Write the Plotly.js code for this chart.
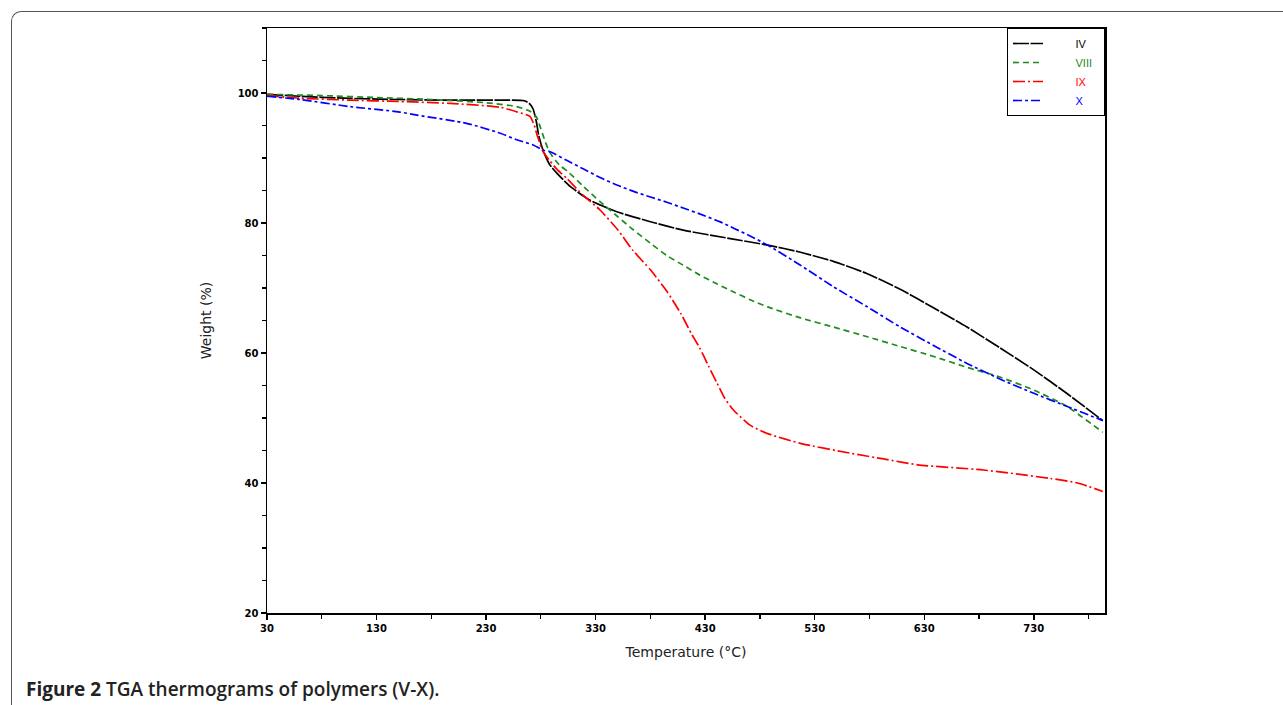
<!DOCTYPE html>
<html>
<head>
<meta charset="utf-8">
<script src="https://cdn.plot.ly/plotly-3.0.1.min.js"></script>
<style>
  html, body { margin: 0; padding: 0; background: #fff; }
  #wrap { position: relative; width: 1283px; height: 705px; overflow: hidden; }
  #frame { position: absolute; left: 11px; top: 11px; width: 1290px; height: 720px;
           border-left: 1.5px solid #555; border-top: 1.5px solid #555; border-top-left-radius: 10px; pointer-events: none; }
  #chart { position: absolute; left: 0; top: 0; width: 1283px; height: 705px; }
</style>
</head>
<body>
<div id="wrap">
  <div id="chart"></div>
  <div id="frame"></div>
</div>
<script>
// Temperature (°C) and weight (%)
const tempIV = [30, 60, 100, 150, 200, 250, 265, 270, 273, 276, 278, 282, 288, 295, 307, 325, 350, 380, 410, 453, 487, 517, 547, 578, 608, 638, 669, 699, 730, 760, 793];
const weightIV = [99.8, 99.5, 99.2, 99.0, 98.9, 98.9, 98.8, 98.3, 97.5, 95.5, 93.5, 91.2, 89.0, 87.6, 85.6, 83.5, 81.7, 80.2, 78.9, 77.6, 76.6, 75.5, 74.1, 72.2, 69.8, 67.0, 64.0, 60.8, 57.4, 53.8, 49.6];

const tempVIII = [30, 80, 130, 180, 230, 258, 270, 276, 280, 284, 288, 297, 304, 319, 334, 350, 364, 380, 395, 410, 425, 441, 456, 471, 487, 517, 547, 578, 608, 638, 669, 699, 730, 760, 793];
const weightVIII = [99.8, 99.6, 99.3, 99.0, 98.5, 97.9, 97.2, 96.3, 94.5, 92.5, 90.9, 88.9, 88.0, 85.6, 83.3, 81.0, 79.0, 76.9, 75.0, 73.5, 72.0, 70.6, 69.4, 68.2, 67.1, 65.4, 64.0, 62.5, 61.0, 59.5, 57.8, 56.3, 54.3, 51.8, 47.8];

const tempIX = [30, 60, 106, 150, 197, 243, 258, 270, 274, 277, 282, 288, 295, 304, 319, 334, 350, 364, 380, 395, 408, 418, 425, 433, 441, 448, 456, 471, 487, 517, 562, 593, 624, 684, 745, 770, 793];
const weightIX = [99.6, 99.2, 98.9, 98.7, 98.4, 97.8, 97.1, 96.4, 95.0, 93.3, 91.0, 89.6, 88.2, 86.8, 84.2, 82.0, 79.0, 75.8, 72.8, 69.5, 66.0, 62.8, 60.8, 58.0, 55.3, 53.0, 51.2, 48.9, 47.6, 46.1, 44.6, 43.7, 42.8, 42.0, 40.7, 40.0, 38.7];

const tempX = [30, 60, 106, 150, 167, 213, 243, 258, 273, 282, 288, 304, 319, 334, 350, 364, 380, 395, 410, 425, 446, 456, 471, 487, 517, 547, 578, 608, 638, 669, 699, 730, 760, 793];
const weightX = [99.5, 99.0, 97.9, 97.1, 96.6, 95.3, 93.8, 92.8, 92.0, 91.2, 91.0, 89.6, 88.3, 87.0, 85.8, 84.9, 84.0, 83.2, 82.3, 81.4, 80.0, 79.2, 78.0, 76.6, 73.5, 70.2, 67.1, 64.0, 61.2, 58.4, 56.0, 53.8, 51.8, 49.6];

const seriesNames = ['IV', 'VIII', 'IX', 'X'];
const xTickVals = [30, 130, 230, 330, 430, 530, 630, 730];
const yTickVals = [20, 40, 60, 80, 100];

const colors = ['#000000', '#1e8c1e', '#ff0000', '#0000ff'];
const dashes = ['16px,1.5px', '6px,4px', '12px,3px,2px,3px', '9px,3px,3px,3px'];
const xs = [tempIV, tempVIII, tempIX, tempX];
const ys = [weightIV, weightVIII, weightIX, weightX];

const pad = '&nbsp;'.repeat(9);
const traces = seriesNames.map((n, i) => ({
  type: 'scatter', mode: 'lines',
  x: xs[i], y: ys[i],
  name: pad + '<span style="color:' + colors[i] + '">' + n + '</span>&nbsp;&nbsp;',
  line: { color: colors[i], width: 1.7, dash: dashes[i], shape: 'spline', smoothing: 0.6 },
  hoverinfo: 'skip'
}));

const tickFont = { family: 'DejaVu Sans', size: 10, color: '#000', weight: 700 };

const layout = {
  width: 1283, height: 705,
  margin: { l: 267, r: 178, t: 28, b: 92, pad: 0 },
  paper_bgcolor: '#fff', plot_bgcolor: '#fff',
  showlegend: true,
  legend: {
    x: 1, xanchor: 'right', y: 1, yanchor: 'top',
    bgcolor: '#fff', bordercolor: '#000', borderwidth: 1,
    font: { family: 'Liberation Sans', size: 11, color: '#000' },
    tracegroupgap: 0
  },
  xaxis: {
    range: [30, 795], tickvals: xTickVals, ticktext: xTickVals.map(String),
    ticks: 'outside', ticklen: 5, tickwidth: 1.5, tickcolor: '#000',
    minor: { dtick: 50, tick0: 30, ticks: 'outside', ticklen: 4, tickwidth: 1.2, tickcolor: '#000' },
    showline: true, linecolor: '#000', linewidth: 1.5, mirror: true,
    showgrid: false, zeroline: false,
    tickfont: tickFont,
    title: { text: 'Temperature (°C)', font: { family: 'DejaVu Sans', size: 14, color: '#222' }, standoff: 14 }
  },
  yaxis: {
    range: [20, 110], tickvals: yTickVals, ticktext: yTickVals.map(String),
    ticks: 'outside', ticklen: 5, tickwidth: 1.5, tickcolor: '#000',
    minor: { dtick: 5, tick0: 20, ticks: 'outside', ticklen: 4, tickwidth: 1.2, tickcolor: '#000' },
    showline: true, linecolor: '#000', linewidth: 1.5, mirror: true,
    showgrid: false, zeroline: false,
    tickfont: tickFont,
    title: { text: 'Weight (%)', font: { family: 'DejaVu Sans', size: 14, color: '#222' }, standoff: 22 }
  },
  annotations: [{
    xref: 'paper', yref: 'paper', x: -0.29, y: -0.105, xanchor: 'left', yanchor: 'top',
    showarrow: false, align: 'left',
    text: '<b>Figure 2</b> TGA thermograms of polymers (V-X).',
    font: { family: 'Open Sans', size: 19, color: '#222', weight: 600 }
  }]
};

Plotly.newPlot('chart', traces, layout, { staticPlot: true, displayModeBar: false });
</script>
</body>
</html>
